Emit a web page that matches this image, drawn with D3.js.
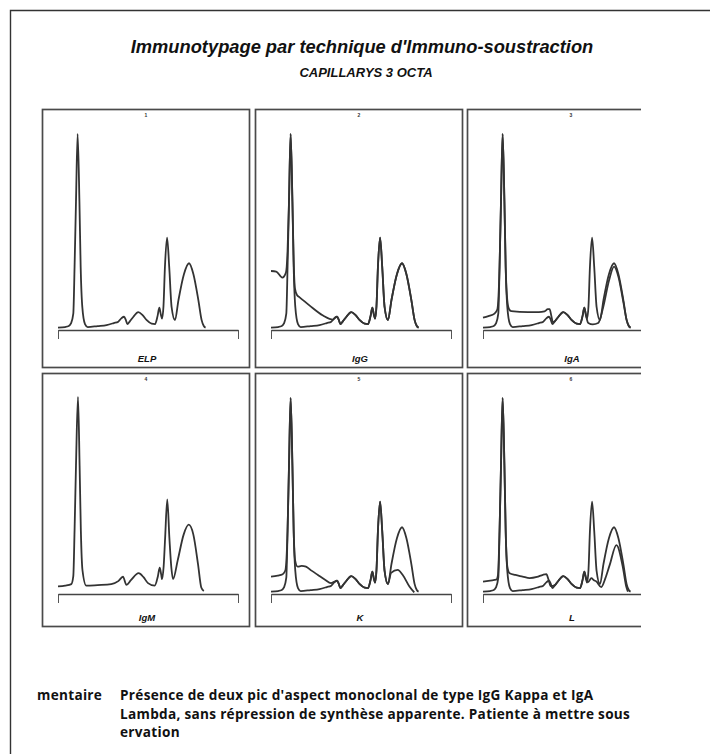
<!DOCTYPE html>
<html>
<head>
<meta charset="utf-8">
<script src="https://cdn.jsdelivr.net/npm/d3@7"></script>
<style>
  body { margin: 0; background: #fff; }
  svg { display: block; }
</style>
</head>
<body>
<svg id="chart" width="710" height="754"></svg>
<script>
// Traces. x = migration (0 = left end of the axis, 100 = right end),
// y = signal (0 = axis line, 100 = albumin peak height)
const elpTrace = [[0, 1.2], [4, 1.5], [6, 2], [7.2, 3.3], [8.5, 8.3], [9.2, 31.7], [10, 65], [10.9, 99],
  [11.9, 65], [12.6, 31.7], [13.5, 11.7], [15, 3], [16.5, 1.5], [22, 2], [27, 2.5], [31, 3.5], [33.5, 4.2],
  [35.3, 6], [36.7, 6.7], [37.7, 5], [38.5, 3], [40, 4.5], [41.9, 6.7], [44.6, 9], [47, 7.5], [49.3, 5],
  [52, 3.2], [53.9, 3], [55.3, 7], [56.3, 11.3], [57.1, 8], [57.8, 5.8], [58.6, 12], [59.4, 31.7],
  [60.6, 46.7], [61.8, 31.7], [63.1, 11.7], [65, 5], [66.9, 15], [70, 28.3], [72.8, 33.7], [75.2, 28.3],
  [78, 15], [79.8, 5], [81, 2], [82, 1.2]]

const igmTrace = [[0, 3.8], [4, 4.2], [7.4, 5], [8.5, 9], [9.2, 32], [10, 65], [11.1, 99.5], [12, 65],
  [12.7, 32], [13.6, 12], [15.7, 4.2], [22, 4.5], [29.6, 5], [33.5, 6.5], [36.1, 8.7], [38, 4.6], [40.5, 7],
  [44.8, 10.5], [47.5, 8.5], [50, 5.5], [53.7, 4.2], [55.5, 9], [56.5, 13.3], [57.3, 10], [57.8, 7.5],
  [58.7, 14], [59.5, 28], [60.7, 47.8], [61.9, 28], [63, 13], [63.9, 7.5], [66.5, 17], [69.8, 30],
  [72.6, 35], [75.2, 30], [77.8, 15], [79.6, 3.3], [81, 1.5]]

const igGSub = [[0, 29.8], [2.9, 29.5], [6.3, 26.5], [8.3, 29], [9.2, 40], [10, 65], [10.9, 99], [11.9, 65],
  [12.6, 35], [13.3, 21], [14.5, 17.5], [15.9, 16.5], [21.5, 12.3], [28.9, 7.3], [34.4, 5.2], [35.5, 6.2],
  [36.7, 6.7], [37.7, 5], [38.5, 3], [40, 4.5], [41.9, 6.7], [44.6, 9], [47, 7.5], [49.3, 5], [52, 3.2],
  [53.9, 3], [55.3, 7], [56.3, 11.3], [57.1, 8], [57.8, 5.8], [58.6, 12], [59.4, 31.7], [60.6, 46.7],
  [61.8, 31.7], [63.1, 11.7], [65, 5], [66.9, 15], [70, 28.3], [72.8, 33.7], [75.2, 28.3], [78, 15],
  [79.8, 5], [81, 2], [82, 1.2]]

const igASub = [[0, 6.2], [3, 7], [6.4, 8.3], [8, 10.5], [9.2, 32], [10, 65], [10.9, 99], [11.9, 65],
  [12.6, 32], [13.5, 15], [14.5, 10.5], [15.7, 9.5], [25, 9], [31, 9], [34.2, 9.4], [36, 10.5], [37, 10.5],
  [38, 7], [38.8, 4], [40, 4.5], [41.9, 6.7], [44.6, 9], [47, 7.5], [49.3, 5], [52, 3.2], [53.9, 3],
  [55.3, 7], [56.3, 11.3], [57.3, 7], [58.5, 3.5], [61, 2.8], [64, 3.5], [66.9, 12], [70, 25], [72.8, 32],
  [75.2, 27], [78, 14], [79.8, 5], [81, 2], [82, 1.2]]

const kSub = [[0, 8.8], [3.7, 9.3], [6.5, 10], [8, 12], [9.2, 32], [10, 65], [10.9, 99], [11.9, 65],
  [12.6, 32], [13.4, 17], [14.8, 13.8], [17, 14.2], [19.4, 13.8], [22.5, 11.8], [25.9, 9.7], [30, 7.2],
  [33.3, 5.5], [35.3, 6.3], [36.7, 6.7], [37.7, 5], [38.5, 3], [40, 4.5], [41.9, 6.7], [44.6, 9], [47, 7.5],
  [49.3, 5], [52, 3.2], [53.9, 3], [55.3, 7], [56.3, 11.3], [57.1, 8], [57.8, 5.8], [58.6, 12], [59.4, 31.7],
  [60.6, 46.7], [61.8, 31.7], [63.1, 11.7], [65, 5], [66.7, 10.7], [70.4, 12.2], [73.1, 9.7], [76.9, 3.8],
  [79.6, 0.8]]

const lSub = [[0, 6.3], [4, 6.8], [7.4, 7.2], [8.3, 9.5], [9.2, 32], [10, 65], [10.9, 99], [11.9, 65],
  [12.6, 32], [13.5, 14], [14.8, 10.5], [18, 9.6], [22, 8.8], [25.9, 8], [30, 8.6], [33.3, 9.7], [35.2, 10],
  [36.5, 7], [37.6, 4], [40, 4.5], [41.9, 6.7], [44.6, 9], [47, 7.5], [49.3, 5], [52, 3.2], [53.9, 3],
  [55.3, 7], [56.3, 11.3], [57.3, 8], [58.4, 6], [60.2, 8], [61.6, 7], [63, 6.3], [65.7, 3.5], [68, 8],
  [70.4, 14.7], [74.1, 24.7], [77.8, 13], [79.5, 4], [80.5, 1.2]]

const panelNames = ['ELP', 'IgG', 'IgA', 'IgM', 'K', 'L']
const panelNumbers = ['1', '2', '3', '4', '5', '6']
const panelTraces = [[elpTrace], [elpTrace, igGSub], [elpTrace, igASub], [igmTrace], [elpTrace, kSub], [elpTrace, lSub]]

const titleText = "Immunotypage par technique d'Immuno-soustraction"
const subtitleText = 'CAPILLARYS 3 OCTA'
const commentLabel = 'mentaire'
const commentLines = [
  "Présence de deux pic d'aspect monoclonal de type IgG Kappa et IgA",
  'Lambda, sans répression de synthèse apparente. Patiente à mettre sous',
  'ervation'
]

// layout of the scanned sheet
const colX = [42, 255, 467]
const rowY = [109, 373]
const rowH = [258, 253]
const panelW = 207
const ink = '#333'

const svg = d3.select('#chart')

svg.append('defs').append('clipPath').attr('id', 'page-clip')
  .append('rect').attr('x', 0).attr('y', 0).attr('width', 641).attr('height', 754)

// outer frame of the sheet
svg.append('path')
  .attr('d', 'M10.5,754V10.5H710')
  .attr('fill', 'none').attr('stroke', '#333').attr('stroke-width', 1.4)

const page = svg.append('g').attr('clip-path', 'url(#page-clip)')

page.append('text')
  .attr('x', 362).attr('y', 53)
  .attr('text-anchor', 'middle')
  .style('font', 'italic bold 18.3px "Liberation Sans", Arial, sans-serif')
  .attr('fill', '#111')
  .text(titleText)

page.append('text')
  .attr('x', 366).attr('y', 77)
  .attr('text-anchor', 'middle')
  .style('font', 'italic bold 13px "Liberation Sans", Arial, sans-serif')
  .attr('fill', '#111')
  .text(subtitleText)

/**
 * Draws one electrophoresis panel: frame, axis, traces and labels
 *
 * @param {*} g The group of the panel, already translated
 * @param {number} i The index of the panel
 * @param {number} h The height of the panel frame
 */
function drawPanel (g, i, h) {
  g.append('rect')
    .attr('x', 0.5).attr('y', 0.5)
    .attr('width', panelW).attr('height', h)
    .attr('fill', 'none').attr('stroke', '#4a4a4a').attr('stroke-width', 1.7)

  const axisY = 221
  const x = d3.scaleLinear().domain([0, 100]).range([16, 196])
  const y = d3.scaleLinear().domain([0, 100]).range([axisY, axisY - 198])

  const axis = g.append('g')
    .attr('transform', `translate(0,${axisY})`)
    .call(d3.axisBottom(x).tickValues([0, 100]).tickSize(9).tickSizeOuter(0).tickFormat(''))
  axis.select('.domain').attr('stroke', '#444').attr('stroke-width', 1.4)
  axis.selectAll('.tick line').attr('stroke', '#555').attr('stroke-width', 1)

  const line = d3.line()
    .x(d => x(d[0]))
    .y(d => y(d[1]))
    .curve(d3.curveMonotoneX)

  g.selectAll('.trace')
    .data(panelTraces[i])
    .join('path')
    .attr('class', 'trace')
    .attr('d', line)
    .attr('fill', 'none')
    .attr('stroke', ink)
    .attr('stroke-width', 1.8)
    .attr('stroke-linejoin', 'round')

  g.append('text')
    .attr('x', 104).attr('y', 8)
    .attr('text-anchor', 'middle')
    .style('font', 'bold 5px "Liberation Sans", Arial, sans-serif')
    .attr('fill', '#333')
    .text(panelNumbers[i])

  g.append('text')
    .attr('x', 105).attr('y', h - 5)
    .attr('text-anchor', 'middle')
    .style('font', 'italic bold 9.5px "Liberation Sans", Arial, sans-serif')
    .attr('fill', '#111')
    .text(panelNames[i])
}

panelNames.forEach((name, i) => {
  const r = Math.floor(i / 3)
  const c = i % 3
  const g = page.append('g').attr('transform', `translate(${colX[c]},${rowY[r]})`)
  drawPanel(g, i, rowH[r])
})

const commentFont = 'bold 13.6px "Open Sans", "DejaVu Sans", sans-serif'

page.append('text')
  .attr('x', 37).attr('y', 700)
  .style('font', commentFont)
  .style('letter-spacing', '0.3px')
  .attr('fill', '#111')
  .text(commentLabel)

page.selectAll('.comment')
  .data(commentLines)
  .join('text')
  .attr('class', 'comment')
  .attr('x', 120)
  .attr('y', (d, i) => 700 + i * 18.5)
  .style('font', commentFont)
  .style('letter-spacing', '0.3px')
  .attr('fill', '#111')
  .text(d => d)
</script>
</body>
</html>
